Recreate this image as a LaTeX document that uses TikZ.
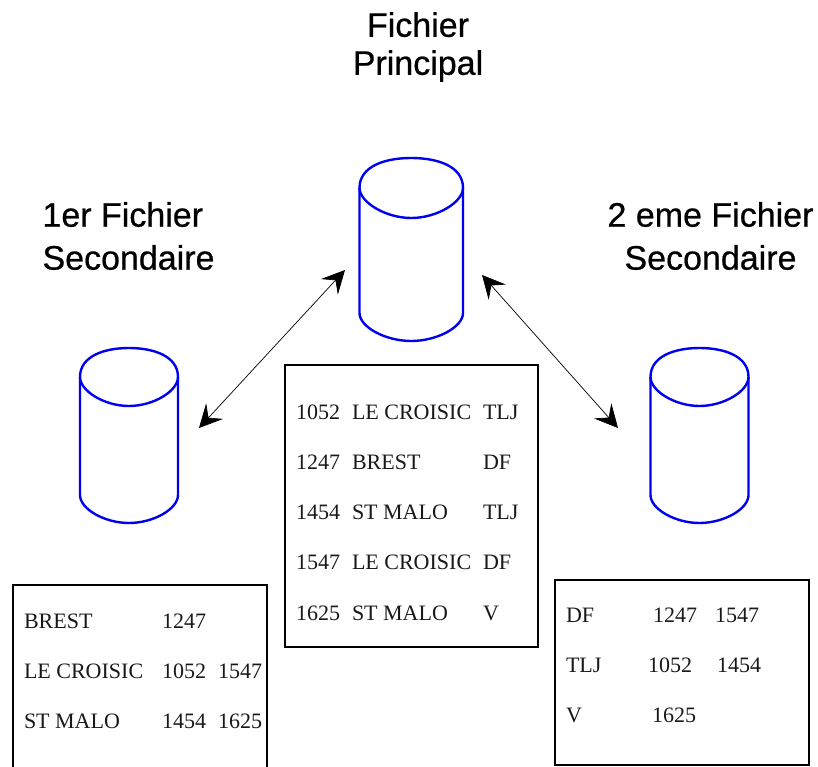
\documentclass[tikz,border=0pt]{standalone}
\usepackage{fontspec}
\setmainfont{Liberation Serif}
\newfontfamily\titlefont[FakeBold=0.6]{Liberation Sans}
\usetikzlibrary{arrows.meta}
\definecolor{cylblue}{RGB}{0,0,240}
\tikzset{
  x=1pt,y=-1pt,
  cell/.style={anchor=base west,inner sep=0pt,outer sep=0pt,font=\fontsize{22}{24}\selectfont,text=black!90},
  title/.style={inner sep=0pt,outer sep=0pt,align=center,font=\titlefont\fontsize{34}{#1}\selectfont},
  tablebox/.style={draw=black,line width=2.4pt,line join=miter},
  link/.style={draw=black,line width=0.7pt,{Stealth[length=23pt,width=23pt,inset=9pt]}-{Stealth[length=23pt,width=23pt,inset=9pt]}},
  cyl/.style={draw=cylblue,line width=2.4pt,line join=round},
}
% #1 name, #2 left x, #3 right x, #4 top y, #5 top-ellipse centre y, #6 side end y, #7 bottom y
\newcommand{\cylinderdraw}[7]{%
  \path[cyl] (#2,#5) .. controls (#2,{#4+8}) and ({#2+0.25*(#3-#2)},#4) .. ({0.5*(#2+#3)},#4)
     .. controls ({#3-0.25*(#3-#2)},#4) and (#3,{#4+8}) .. (#3,#5)
     .. controls (#3,{#5+14}) and ({#3-0.25*(#3-#2)},{2*#5-#4}) .. ({0.5*(#2+#3)},{2*#5-#4})
     .. controls ({#2+0.25*(#3-#2)},{2*#5-#4}) and (#2,{#5+14}) .. (#2,#5) -- cycle;
  \path[cyl] (#2,#5) -- (#2,#6)
     .. controls (#2,{#6+14}) and ({#2+0.25*(#3-#2)},#7) .. ({0.5*(#2+#3)},#7)
     .. controls ({#3-0.25*(#3-#2)},#7) and (#3,{#6+14}) .. (#3,#6) -- (#3,#5);
  \coordinate (#1) at ({0.5*(#2+#3)},{0.5*(#4+#7)});
}
\begin{document}
\begin{tikzpicture}
\useasboundingbox (0,0) rectangle (818,767);
\fill[white] (0,0) rectangle (818,767);

\node[title=38] (tprincipal) at (418,47) {Fichier\\Principal};
\node[title=43, align=left] (tpremier) at (128.5,236) {\hspace*{0pt}1er Fichier\\Secondaire};
\node[title=43] (tsecond) at (710.5,236) {2 eme Fichier\\Secondaire};

\cylinderdraw{cylmain}{359.5}{463}{158}{188}{313}{341}
\cylinderdraw{cylleft}{80}{178}{348}{377}{495}{523}
\cylinderdraw{cylright}{650.5}{748.5}{348}{377}{495}{523}

\coordinate (mainL) at (345,270);
\coordinate (leftT) at (199,428);
\coordinate (mainR) at (482,275);
\coordinate (rightT) at (618,428);
\draw[link] (mainL) -- (leftT);
\draw[link] (mainR) -- (rightT);

% central table
\node[tablebox,minimum width=253pt,minimum height=282pt,inner sep=0pt] (boxmain) at (411.5,506) {};
\foreach \y/\a/\b/\c [count=\i] in {419/1052/LE CROISIC/TLJ,469/1247/BREST/DF,519/1454/ST MALO/TLJ,569/1547/LE CROISIC/DF,620/1625/ST MALO/V}{
  \node[cell] (mA\i) at (296,\y) {\a};
  \node[cell] (mB\i) at (352,\y) {\b};
  \node[cell] (mC\i) at (483,\y) {\c};
}

% left table (runs past the lower edge of the page)
\begin{scope}
\clip (0,0) rectangle (818,767);
\node[tablebox,minimum width=254pt,minimum height=200pt,inner sep=0pt] (boxleft) at (140,685) {};
\end{scope}
\node[cell] (l1) at (24,628) {BREST};
\node[cell] (l2) at (162,628) {1247};
\node[cell] (l3) at (24,678) {LE CROISIC};
\node[cell] (l4) at (162,678) {1052};
\node[cell] (l5) at (218,678) {1547};
\node[cell] (l6) at (24,728) {ST MALO};
\node[cell] (l7) at (162,728) {1454};
\node[cell] (l8) at (218,728) {1625};

% right table
\node[tablebox,minimum width=254pt,minimum height=185pt,inner sep=0pt] (boxright) at (682,672.5) {};
\node[cell] (r1) at (566,622) {DF};
\node[cell] (r2) at (653,622) {1247};
\node[cell] (r3) at (715,622) {1547};
\node[cell] (r4) at (566,672) {TLJ};
\node[cell] (r5) at (648,672) {1052};
\node[cell] (r6) at (717,672) {1454};
\node[cell] (r7) at (566,722) {V};
\node[cell] (r8) at (652,722) {1625};
\end{tikzpicture}
\end{document}
